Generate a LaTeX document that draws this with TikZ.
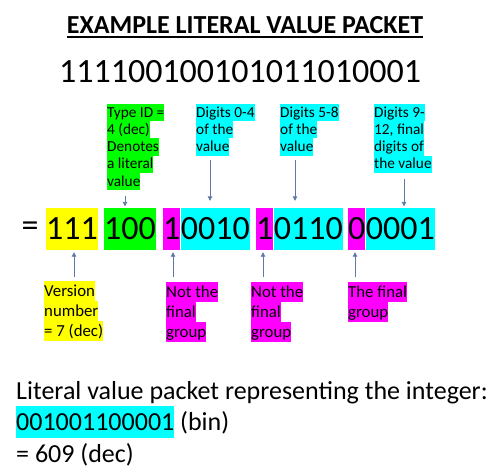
\documentclass[tikz,border=0pt]{standalone}
\usepackage{fontspec}
\setmainfont{Carlito}
\usetikzlibrary{arrows.meta}
\definecolor{hlyellow}{RGB}{255,255,0}
\definecolor{hlgreen}{RGB}{0,255,0}
\definecolor{hlcyan}{RGB}{0,255,255}
\definecolor{hlmag}{RGB}{255,0,255}
\definecolor{arrowc}{RGB}{95,120,170}
\setlength{\fboxsep}{0pt}
\newcommand\lnstrut{\rule[-0.23\baselineskip]{0pt}{\baselineskip}}
\newcommand\hlt[2]{\colorbox{#1}{\lnstrut #2}}
\begin{document}
\begin{tikzpicture}[x=1pt,y=-1pt,
  lbltop/.style={anchor=north west, inner sep=0pt, align=left, font=\fontsize{15.3}{17.3}\selectfont},
  lblbot/.style={anchor=north west, inner sep=0pt, align=left, font=\fontsize{16.8}{20}\selectfont},
  seg/.style={anchor=west, inner xsep=0pt, inner ysep=0pt, minimum height=42pt, font=\fontsize{34}{40}\selectfont},
  arr/.style={draw=arrowc, line width=0.9pt, -{Triangle[length=4.5pt,width=4.5pt]}},
]
\useasboundingbox (0,0) rectangle (500,474);

% title and raw bits
\node[inner sep=0pt, anchor=base, font=\fontsize{26}{31}\selectfont\bfseries] (title) at (245,33) {EXAMPLE LITERAL VALUE PACKET};
\draw[line width=1.8pt] ([yshift=-4pt]title.base west) -- ([yshift=-4pt]title.base east);
\node[inner sep=0pt, anchor=base, font=\fontsize{34}{40}\selectfont] (bits) at (240,82) {111100100101011010001};

% segmented packet
\node[inner sep=0pt, font=\fontsize{34}{40}\selectfont] (eq) at (30,229) {=};
\node[seg, fill=hlyellow] (ver) at (46,229) {111};
\node[seg, fill=hlgreen] (typ) at (104,229) {100};
\node[seg, fill=hlmag] (m1) at (163,229) {1};
\node[seg, fill=hlcyan] (c1) at (m1.east) {0010};
\node[seg, fill=hlmag] (m2) at (256,229) {1};
\node[seg, fill=hlcyan] (c2) at (m2.east) {0110};
\node[seg, fill=hlmag] (m3) at (348,229) {0};
\node[seg, fill=hlcyan] (c3) at (m3.east) {0001};

% top labels
\node[lbltop] (ltyp) at (107,103.5) {\hlt{hlgreen}{Type ID =}\\\hlt{hlgreen}{4 (dec)}\\\hlt{hlgreen}{Denotes}\\\hlt{hlgreen}{a literal}\\\hlt{hlgreen}{value}};
\node[lbltop] (l04) at (196,103.5) {\hlt{hlcyan}{Digits 0-4}\\\hlt{hlcyan}{of the}\\\hlt{hlcyan}{value}};
\node[lbltop] (l58) at (280,103.5) {\hlt{hlcyan}{Digits 5-8}\\\hlt{hlcyan}{of the}\\\hlt{hlcyan}{value}};
\node[lbltop] (l912) at (374,103.5) {\hlt{hlcyan}{Digits 9-}\\\hlt{hlcyan}{12, final}\\\hlt{hlcyan}{digits of}\\\hlt{hlcyan}{the value}};

% bottom labels
\node[lblbot] (lver) at (44,281) {\hlt{hlyellow}{Version}\\\hlt{hlyellow}{number}\\\hlt{hlyellow}{= 7 (dec)}};
\node[lblbot] (lnf1) at (166,282) {\hlt{hlmag}{Not the}\\\hlt{hlmag}{final}\\\hlt{hlmag}{group}};
\node[lblbot] (lnf2) at (251,282) {\hlt{hlmag}{Not the}\\\hlt{hlmag}{final}\\\hlt{hlmag}{group}};
\node[lblbot] (lfin) at (348,282) {\hlt{hlmag}{The final}\\\hlt{hlmag}{group}};

% top arrows
\coordinate (ta) at (125,196);
\coordinate (tb) at (210,160);
\coordinate (tc) at (295,160);
\coordinate (td) at (404,179);
\draw[arr, shorten >=1.5pt] (ta) -- (ta |- typ.north);
\draw[arr, shorten >=7pt] (tb) -- (tb |- c1.north);
\draw[arr, shorten >=7pt] (tc) -- (tc |- c2.north);
\draw[arr, shorten >=1.5pt] (td) -- (td |- c3.north);

% bottom arrows
\coordinate (ba) at (74,277);
\coordinate (bb) at (173,277);
\coordinate (bc) at (263,277);
\coordinate (bd) at (355,277);
\draw[arr, shorten >=2pt] (ba) -- (ba |- ver.south);
\draw[arr, shorten >=2pt] (bb) -- (bb |- m1.south);
\draw[arr, shorten >=2pt] (bc) -- (bc |- m2.south);
\draw[arr, shorten >=2pt] (bd) -- (bd |- m3.south);

% result text
\node[anchor=north west, inner sep=0pt, align=left, font=\fontsize{26}{31.5}\selectfont] (res) at (16,374.7) {\lnstrut Literal value packet representing the integer:\\\hlt{hlcyan}{001001100001} (bin)\\\lnstrut= 609 (dec)};
\end{tikzpicture}
\end{document}
